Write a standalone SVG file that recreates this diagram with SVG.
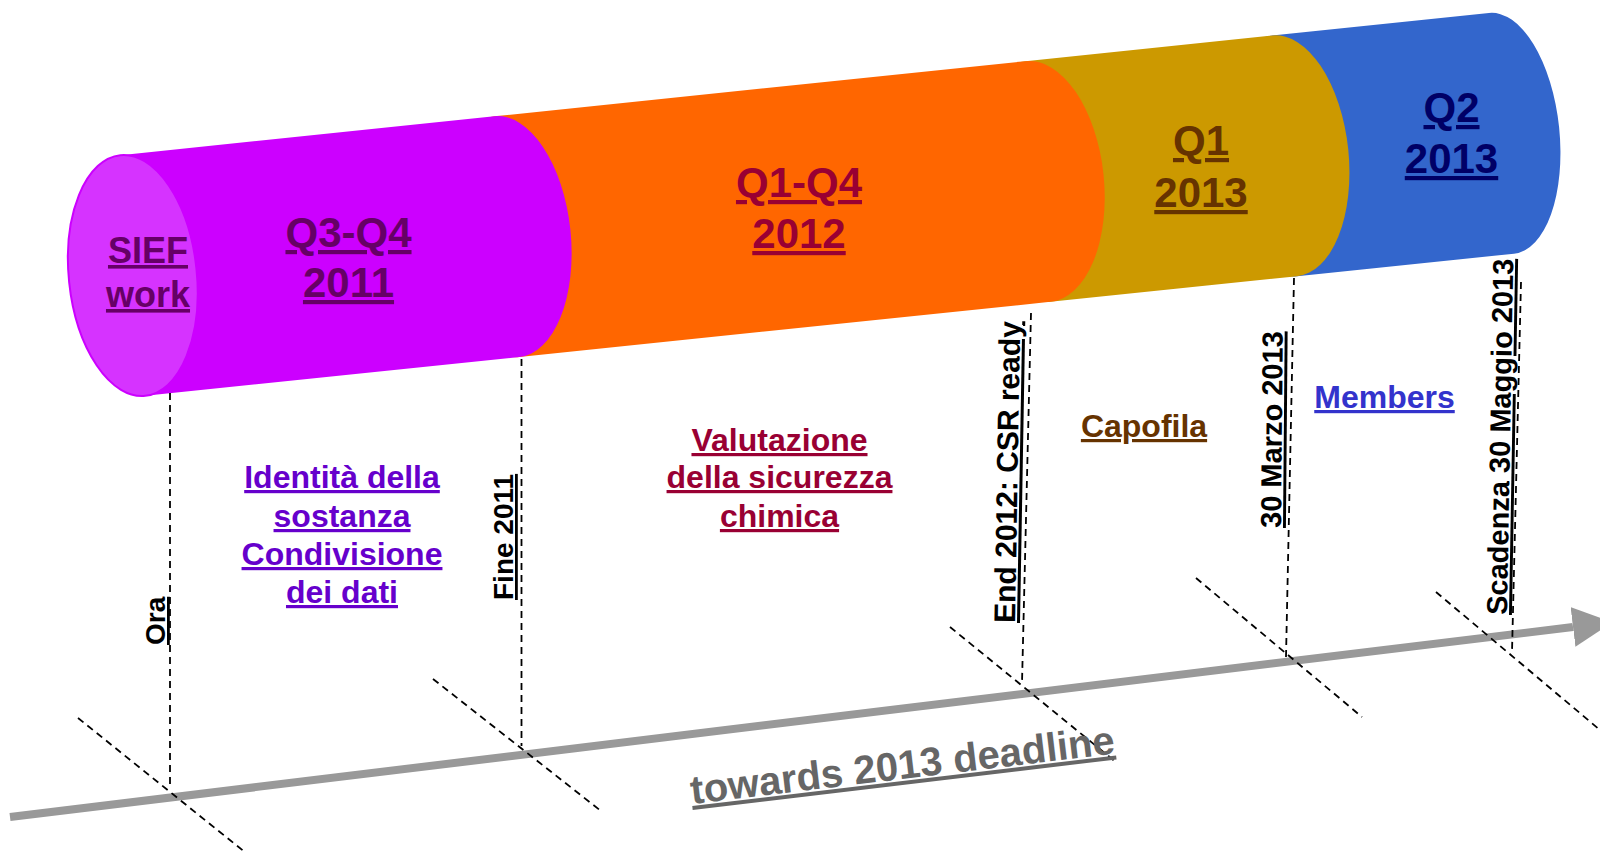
<svg xmlns="http://www.w3.org/2000/svg" width="1600" height="854" viewBox="0 0 1600 854">
<defs>
<style>
text{font-family:"Liberation Sans",Arial,Helvetica,sans-serif;font-weight:bold;text-decoration:underline;text-decoration-thickness:2px;}
.big{font-size:42px;text-anchor:middle;}
.mid{font-size:32px;text-anchor:middle;}
.vert{font-size:29px;fill:#000;}
.dash{fill:none;stroke:#000;stroke-width:1.8;stroke-dasharray:7 5;}
</style>
<marker id="arrow" viewBox="0 0 40 40" refX="0" refY="20" markerWidth="40" markerHeight="40" markerUnits="userSpaceOnUse" orient="auto">
<path d="M0,0 L40,20 L0,40 Z" fill="#999999"/>
</marker>
</defs>
<rect width="1600" height="854" fill="#ffffff"/>

<g id="cylinder" transform="translate(132.8 275.5) rotate(-5.93)">
<g id="seg-q2-2013"><path d="M1158,-121 H1376 A58 121 0 0 1 1376,121 H1158 A64 121 0 0 1 1158,-121 Z" fill="#3366CC"/></g>
<g id="seg-q1-2013"><path d="M910,-121 H1158 A64 121 0 0 1 1158,121 H910 A64 121 0 0 1 910,-121 Z" fill="#CC9900"/></g>
<g id="seg-2012"><path d="M376,-121 H910 A66 121 0 0 1 910,121 H376 A64 121 0 0 1 376,-121 Z" fill="#FF6600"/></g>
<g id="seg-2011"><path d="M0,-121 H376 A64 121 0 0 1 376,121 H0 A64 121 0 0 1 0,-121 Z" fill="#CC00FF"/></g>
<g id="cap"><ellipse cx="0" cy="0" rx="64" ry="121" fill="#D633FF" stroke="#CC00FF" stroke-width="2"/></g>
</g>

<g id="labels-cylinder">
<g id="sief"><text style="font-size:36px;text-anchor:middle" fill="#660066"><tspan x="148" y="263">SIEF</tspan><tspan x="148" y="307">work</tspan></text></g>
<g id="q3q4"><text class="big" fill="#660066"><tspan x="348.5" y="247">Q3-Q4</tspan><tspan x="348.5" y="297">2011</tspan></text></g>
<g id="q1q4"><text class="big" fill="#990033"><tspan x="799" y="197">Q1-Q4</tspan><tspan x="799" y="248">2012</tspan></text></g>
<g id="q1"><text class="big" fill="#663300"><tspan x="1201" y="155">Q1</tspan><tspan x="1201" y="207">2013</tspan></text></g>
<g id="q2"><text class="big" fill="#000066"><tspan x="1451.5" y="122">Q2</tspan><tspan x="1451.5" y="173">2013</tspan></text></g>
</g>

<g id="connectors">
<path d="M10,817 L1573,627" stroke="#999999" stroke-width="8" fill="none" marker-end="url(#arrow)"/>
<line class="dash" x1="170" y1="393" x2="170" y2="786"/>
<line class="dash" x1="521.5" y1="359" x2="521.5" y2="746"/>
<line class="dash" x1="1031" y1="313" x2="1022" y2="683"/>
<line class="dash" x1="1294" y1="278" x2="1286" y2="657"/>
<line class="dash" x1="1521" y1="282" x2="1512" y2="652"/>
<line class="dash" x1="78" y1="718" x2="246" y2="853"/>
<line class="dash" x1="433" y1="679" x2="601" y2="811"/>
<line class="dash" x1="950" y1="627" x2="1117" y2="763"/>
<line class="dash" x1="1196" y1="578" x2="1362" y2="717"/>
<line class="dash" x1="1436" y1="592" x2="1600" y2="730"/>
</g>

<g id="milestones">
<g id="ora"><text class="vert" style="font-size:28px" transform="translate(165 645) rotate(-90)">Ora</text></g>
<g id="fine2011"><text class="vert" style="font-size:28px" transform="translate(513 600) rotate(-90)">Fine 2011</text></g>
<g id="end2012"><text class="vert" style="font-size:30px" transform="translate(1015 623) rotate(-89)">End 2012: CSR ready</text></g>
<g id="marzo"><text class="vert" transform="translate(1281 528) rotate(-89.5)">30 Marzo 2013</text></g>
<g id="scadenza"><text class="vert" transform="translate(1507 615) rotate(-89)">Scadenza 30 Maggio 2013</text></g>
</g>

<g id="labels-below">
<g id="identita"><text class="mid" fill="#6600CC"><tspan x="342" y="488">Identità della</tspan><tspan x="342" y="527">sostanza</tspan><tspan x="342" y="565">Condivisione</tspan><tspan x="342" y="603">dei dati</tspan></text></g>
<g id="valutazione"><text class="mid" fill="#990033"><tspan x="779.5" y="451">Valutazione</tspan><tspan x="779.5" y="488">della sicurezza</tspan><tspan x="779.5" y="527">chimica</tspan></text></g>
<g id="capofila"><text class="mid" fill="#663300" x="1144" y="437">Capofila</text></g>
<g id="members"><text class="mid" fill="#3333CC" x="1384.5" y="408">Members</text></g>
<g id="towards"><text style="font-size:40px" fill="#666666" transform="translate(692 804) rotate(-6.8)">towards 2013 deadline</text></g>
</g>
</svg>
